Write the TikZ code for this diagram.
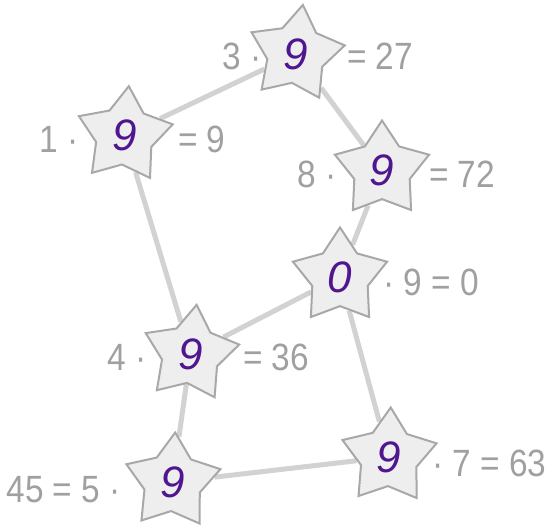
\documentclass[tikz,border=0pt]{standalone}
\usepackage{fontspec}
\setmainfont{Liberation Sans}
\newfontfamily\lblfont[FakeStretch=0.88]{Liberation Sans}
\newfontfamily\numfont{Liberation Sans}
\usetikzlibrary{shapes.geometric,backgrounds}
\definecolor{lblgray}{HTML}{A0A0A0}
\definecolor{edgegray}{HTML}{D2D2D2}
\definecolor{starfill}{HTML}{EEEEEE}
\definecolor{stardraw}{HTML}{A8A8A8}
\definecolor{numpurple}{HTML}{50168F}
\begin{document}
\begin{tikzpicture}[x=1pt,y=1pt,
  starnode/.style={star, star points=5, star point ratio=1.7, minimum size=99pt,
    inner sep=0pt, fill=starfill, draw=stardraw, line width=2pt, text=numpurple,
    font=\numfont\itshape\fontsize{44}{44}\selectfont},
  lbl/.style={text=lblgray, font=\lblfont\fontsize{38}{38}\selectfont, inner sep=0pt},
  edge/.style={draw=edgegray, line width=5pt}]
\useasboundingbox (0,0) rectangle (549,525);
% stars
\node[starnode, shape border rotate=-5] (s1) at (124.5,389.5) {9};
\node[starnode, shape border rotate=-8] (s3) at (296,471) {9};
\node[starnode, shape border rotate=0] (s8) at (382,355) {9};
\node[starnode, shape border rotate=0] (s0) at (340,248) {0};
\node[starnode, shape border rotate=-7] (s4) at (190.6,171) {9};
\node[starnode, shape border rotate=-3] (s5) at (172.6,43) {9};
\node[starnode, shape border rotate=-2] (s7) at (389,68) {9};
% edges
\begin{scope}[on background layer]
\draw[edge] (s1) -- (s3);
\draw[edge] (s3) -- (s8);
\draw[edge] (s8) -- (s0);
\draw[edge] (s0) -- (s4);
\draw[edge] (s1) -- (s4);
\draw[edge] (s0) -- (s7);
\draw[edge] (s4) -- (s5);
\draw[edge] (s5) -- (s7);
\end{scope}
% labels
\node[lbl, anchor=east] (l1a) at (79,385.5) {1 ·};
\node[lbl, anchor=west] (l1b) at (178,385.5) {= 9};
\node[lbl, anchor=east] (l3a) at (262,468.5) {3 ·};
\node[lbl, anchor=west] (l3b) at (347,468.5) {= 27};
\node[lbl, anchor=east] (l8a) at (337,350.5) {8 ·};
\node[lbl, anchor=west] (l8b) at (429,350.5) {= 72};
\node[lbl, anchor=west] (l0) at (383,242.5) {· 9 = 0};
\node[lbl, anchor=east] (l4a) at (147,167.5) {4 ·};
\node[lbl, anchor=west] (l4b) at (243,167.5) {= 36};
\node[lbl, anchor=east] (l5) at (121,35.5) {45 = 5 ·};
\node[lbl, anchor=west] (l7) at (432,61.5) {· 7 = 63};
\end{tikzpicture}
\end{document}
